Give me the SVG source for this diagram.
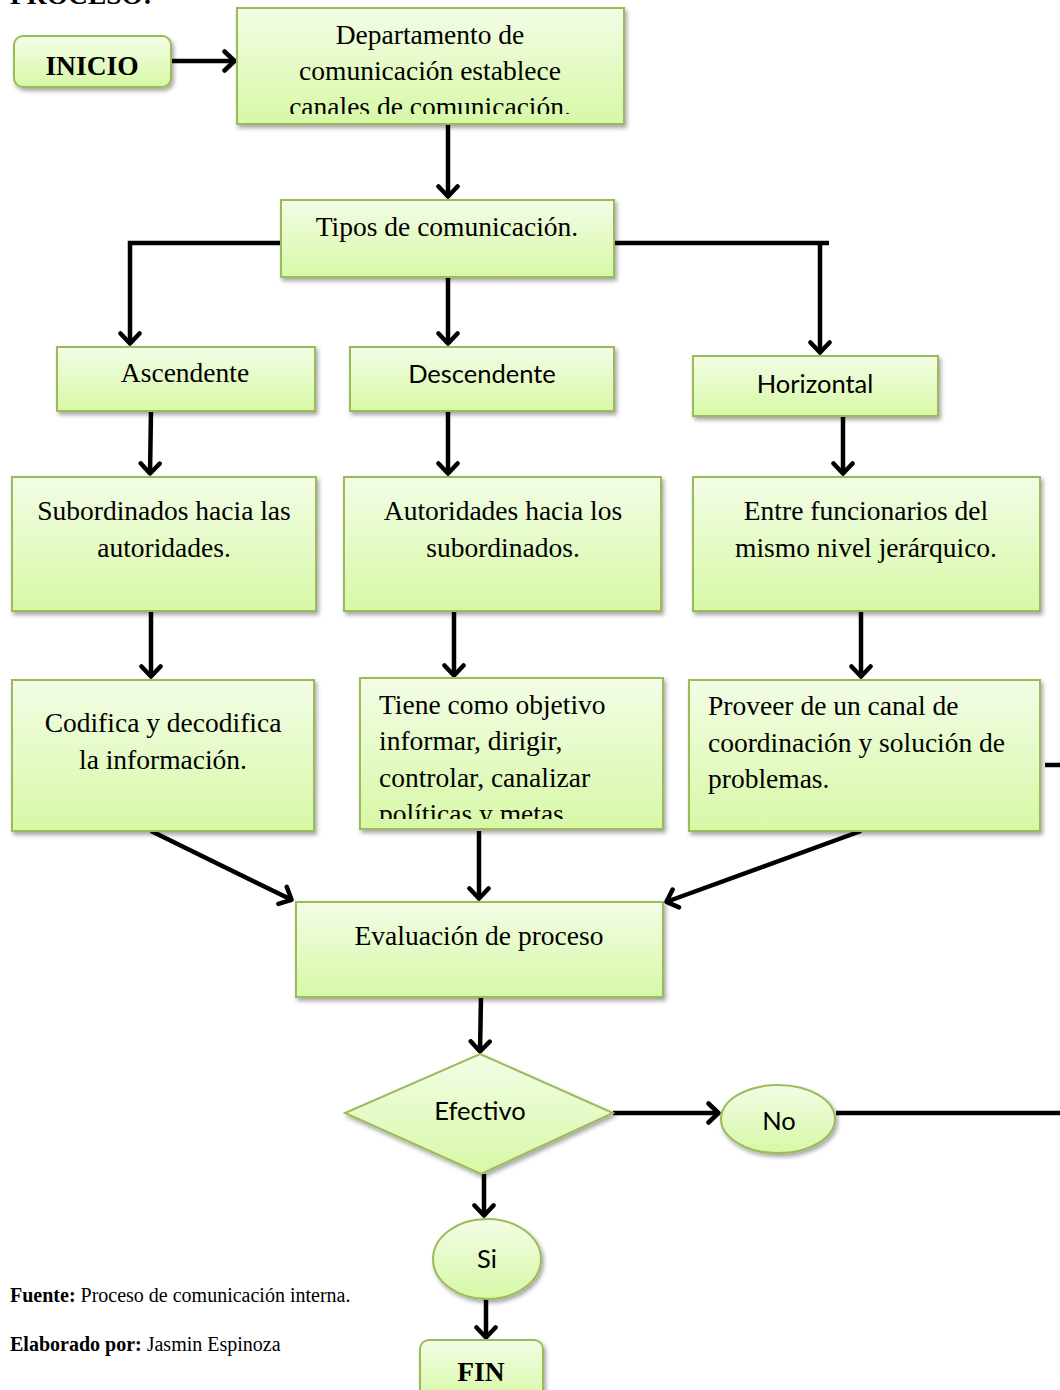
<svg xmlns="http://www.w3.org/2000/svg" width="1060" height="1390" viewBox="0 0 1060 1390">
  <defs>
    <linearGradient id="fillGreen" x1="0" y1="0" x2="0" y2="1">
      <stop offset="0" stop-color="#f3fde6"/>
      <stop offset="1" stop-color="#d7f8a6"/>
    </linearGradient>
    <filter id="shadow" x="-10%" y="-10%" width="125%" height="130%">
      <feDropShadow dx="2" dy="3" stdDeviation="2" flood-color="#000" flood-opacity="0.35"/>
    </filter>
    <marker id="arrow" viewBox="0 0 15 24" refX="13" refY="12" markerWidth="15" markerHeight="24" markerUnits="userSpaceOnUse" orient="auto">
      <path d="M2.5,2.5 L12.5,12 L2.5,21.5" fill="none" stroke="#000" stroke-width="4.5" stroke-linecap="round" stroke-linejoin="round"/>
    </marker>
    <clipPath id="clipTop"><rect x="237" y="8" width="387" height="106"/></clipPath>
    <clipPath id="clipTiene"><rect x="360" y="678" width="303" height="141"/></clipPath>
  </defs>
  <style>
    .box { fill: url(#fillGreen); stroke: #9bbb59; stroke-width: 2; filter: url(#shadow); }
    .serif { font-family: "Liberation Serif", "Times New Roman", serif; font-size: 27.5px; fill: #000; }
    .sans { font-family: Lato, "Liberation Sans", sans-serif; font-size: 25.5px; fill: #000; }
    .mid { text-anchor: middle; }
    .bold { font-weight: bold; }
    .conn line, .conn polyline { stroke: #000; stroke-width: 4.5; fill: none; }
    .note { font-family: "Liberation Serif", "Times New Roman", serif; font-size: 20px; fill: #000; }
  </style>

  <rect width="1060" height="1390" fill="#fff"/>

  <text x="10" y="4" class="serif bold" font-size="31">PROCESO:</text>

  <g id="conectores" class="conn">
    <line x1="171" y1="61" x2="235" y2="61" marker-end="url(#arrow)"/>
    <line x1="448" y1="125" x2="448" y2="197" marker-end="url(#arrow)"/>
    <polyline points="281,243 130,243 130,344" marker-end="url(#arrow)"/>
    <line x1="448" y1="277" x2="448" y2="344" marker-end="url(#arrow)"/>
    <line x1="614" y1="243" x2="829" y2="243"/>
    <line x1="820" y1="243" x2="820" y2="353" marker-end="url(#arrow)"/>
    <line x1="151" y1="411" x2="150" y2="474" marker-end="url(#arrow)"/>
    <line x1="448" y1="411" x2="448" y2="474" marker-end="url(#arrow)"/>
    <line x1="843" y1="416" x2="843" y2="474" marker-end="url(#arrow)"/>
    <line x1="151" y1="611" x2="151" y2="677" marker-end="url(#arrow)"/>
    <line x1="454" y1="611" x2="454" y2="676" marker-end="url(#arrow)"/>
    <line x1="861" y1="611" x2="861" y2="677" marker-end="url(#arrow)"/>
    <line x1="1045" y1="765" x2="1060" y2="765"/>
    <line x1="151" y1="831" x2="292" y2="900" marker-end="url(#arrow)"/>
    <line x1="479" y1="831" x2="479" y2="899" marker-end="url(#arrow)"/>
    <line x1="861" y1="831" x2="666" y2="902" marker-end="url(#arrow)"/>
    <line x1="481" y1="997" x2="480" y2="1052" marker-end="url(#arrow)"/>
    <line x1="613" y1="1113" x2="719" y2="1113" marker-end="url(#arrow)"/>
    <line x1="836" y1="1113" x2="1060" y2="1113"/>
    <line x1="484" y1="1174" x2="484" y2="1216" marker-end="url(#arrow)"/>
    <line x1="486" y1="1299" x2="486" y2="1338" marker-end="url(#arrow)"/>
  </g>

  <g id="inicio">
    <rect class="box" x="14" y="36" width="157" height="51" rx="9"/>
    <text x="92" y="75" class="serif bold mid" font-size="31">INICIO</text>
  </g>

  <g id="departamento">
    <rect class="box" x="237" y="8" width="387" height="116"/>
    <g clip-path="url(#clipTop)">
      <text x="430" y="44" class="serif mid">Departamento de</text>
      <text x="430" y="80" class="serif mid">comunicación establece</text>
      <text x="430" y="116" class="serif mid">canales de comunicación.</text>
    </g>
  </g>

  <g id="tipos">
    <rect class="box" x="281" y="200" width="333" height="77"/>
    <text x="447" y="236" class="serif mid">Tipos de comunicación.</text>
  </g>

  <g id="ascendente">
    <rect class="box" x="57" y="347" width="258" height="64"/>
    <text x="185" y="382" class="serif mid">Ascendente</text>
  </g>

  <g id="descendente">
    <rect class="box" x="350" y="347" width="264" height="64"/>
    <text x="482" y="383" class="sans mid">Descendente</text>
  </g>

  <g id="horizontal">
    <rect class="box" x="693" y="356" width="245" height="60"/>
    <text x="815" y="393" class="sans mid">Horizontal</text>
  </g>

  <g id="subordinados">
    <rect class="box" x="12" y="477" width="304" height="134"/>
    <text x="164" y="520" class="serif mid">Subordinados hacia las</text>
    <text x="164" y="557" class="serif mid">autoridades.</text>
  </g>

  <g id="autoridades">
    <rect class="box" x="344" y="477" width="317" height="134"/>
    <text x="503" y="520" class="serif mid">Autoridades hacia los</text>
    <text x="503" y="557" class="serif mid">subordinados.</text>
  </g>

  <g id="funcionarios">
    <rect class="box" x="693" y="477" width="347" height="134"/>
    <text x="866" y="520" class="serif mid">Entre funcionarios del</text>
    <text x="866" y="557" class="serif mid">mismo nivel jerárquico.</text>
  </g>

  <g id="codifica">
    <rect class="box" x="12" y="680" width="302" height="151"/>
    <text x="163" y="732" class="serif mid">Codifica y decodifica</text>
    <text x="163" y="769" class="serif mid">la información.</text>
  </g>

  <g id="objetivo">
    <rect class="box" x="360" y="678" width="303" height="151"/>
    <g clip-path="url(#clipTiene)">
      <text x="379" y="714" class="serif">Tiene como objetivo</text>
      <text x="379" y="750" class="serif">informar, dirigir,</text>
      <text x="379" y="787" class="serif">controlar, canalizar</text>
      <text x="379" y="823" class="serif">políticas y metas</text>
    </g>
  </g>

  <g id="proveer">
    <rect class="box" x="689" y="680" width="351" height="151"/>
    <text x="708" y="715" class="serif">Proveer de un canal de</text>
    <text x="708" y="752" class="serif">coordinación y solución de</text>
    <text x="708" y="788" class="serif">problemas.</text>
  </g>

  <g id="evaluacion">
    <rect class="box" x="296" y="902" width="367" height="95"/>
    <text x="479" y="945" class="serif mid">Evaluación de proceso</text>
  </g>

  <g id="efectivo">
    <polygon class="box" points="480,1054 613,1113 481,1174 345,1113"/>
    <text x="480" y="1120" class="sans mid">Efectivo</text>
  </g>

  <g id="no">
    <ellipse class="box" cx="778" cy="1119" rx="57" ry="34"/>
    <text x="779" y="1130" class="sans mid">No</text>
  </g>

  <g id="si">
    <ellipse class="box" cx="487" cy="1259" rx="54" ry="40"/>
    <text x="487" y="1268" class="sans mid">Si</text>
  </g>

  <g id="fin">
    <rect class="box" x="420" y="1340" width="123" height="60" rx="9"/>
    <text x="481" y="1381" class="serif bold mid" font-size="31">FIN</text>
  </g>

  <text x="10" y="1302" class="note"><tspan font-weight="bold">Fuente:</tspan> Proceso de comunicación interna.</text>
  <text x="10" y="1351" class="note"><tspan font-weight="bold">Elaborado por:</tspan> Jasmin Espinoza</text>
</svg>
